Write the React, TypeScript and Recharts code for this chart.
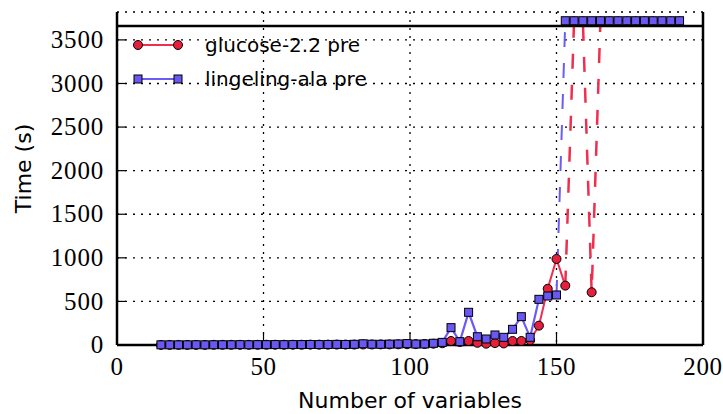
import { LineChart, Line, XAxis, YAxis, CartesianGrid, ReferenceLine, Legend } from "recharts";

// timed-out runs are plotted just above the top of the axes
const TIMEOUT = 3720;
const Y_LIMIT = 3660;
const Y_TOP = 3820;

const variables = [
  15, 18, 21, 24, 27, 30, 33, 36, 39, 42, 45, 48, 51, 54, 57, 60, 63, 66, 69, 72,
  75, 78, 81, 84, 87, 90, 93, 96, 99, 102, 105, 108, 111, 114, 117, 120, 123, 126, 129, 132,
  135, 138, 141, 144, 147, 150, 153, 156, 159, 162, 165, 168, 171, 174, 177, 180, 183, 186, 189, 192,
];

const glucoseTimes = [
  1, 1, 1, 1, 1, 1, 2, 2, 2, 2, 2, 2, 3, 3, 3, 3, 3, 4, 4, 4,
  5, 5, 5, 6, 6, 7, 7, 8, 9, 10, 12, 15, 20, 46, 35, 46, 25, 15, 22, 18,
  46, 46, 55, 222, 645, 987, 681, 3720, 3720, 605, 3720, 3720, 3720, 3720, 3720, 3720, 3720, 3720, 3720, 3720,
];

const lingelingTimes = [
  2, 2, 2, 2, 3, 2, 3, 3, 3, 4, 3, 4, 4, 5, 4, 5, 5, 6, 5, 6,
  7, 6, 8, 14, 9, 8, 10, 12, 16, 11, 12, 20, 30, 199, 38, 375, 95, 69, 115, 88,
  180, 325, 88, 524, 562, 574, 3720, 3720, 3720, 3720, 3720, 3720, 3720, 3720, 3720, 3720, 3720, 3720, 3720, 3720,
];

const xTicks = [0, 50, 100, 150, 200];
const yTicks = [0, 500, 1000, 1500, 2000, 2500, 3000, 3500];

const RED_LINE = "#ee2f4f";
const RED_FILL = "#e61f3c";
const BLUE_LINE = "#6a5cf5";
const BLUE_FILL = "#6a58f2";
const SERIF = "'Liberation Serif', serif";
const SANS = "'DejaVu Sans', sans-serif";

const isOut = (v: number) => v >= TIMEOUT;

// split one run into solid part, dashed jumps to/from timeout, and the timeout row
function split(values: number[]) {
  return values.map((v, i) => {
    const prev = i > 0 ? values[i - 1] : null;
    const next = i < values.length - 1 ? values[i + 1] : null;
    const out = isOut(v);
    const jump = out
      ? (prev !== null && !isOut(prev)) || (next !== null && !isOut(next))
      : (prev !== null && isOut(prev)) || (next !== null && isOut(next));
    return { solid: out ? null : v, jump: jump ? v : null, top: out ? v : null };
  });
}

const g = split(glucoseTimes);
const l = split(lingelingTimes);
const data = variables.map((n, i) => ({
  n,
  gSolid: g[i].solid,
  gJump: g[i].jump,
  gTop: g[i].top,
  lSolid: l[i].solid,
  lJump: l[i].jump,
  lTop: l[i].top,
}));

const legendItems = [
  { label: "glucose-2.2 pre", line: RED_LINE, fill: RED_FILL, shape: "circle" },
  { label: "lingeling-ala pre", line: BLUE_LINE, fill: BLUE_FILL, shape: "square" },
];

function Marker({ cx, cy, shape, fill, size }: any) {
  if (cx == null || cy == null) return null;
  if (shape === "circle") {
    return <circle cx={cx} cy={cy} r={size / 2} fill={fill} stroke="#000" strokeWidth={1} />;
  }
  return <rect x={cx - size / 2} y={cy - size / 2} width={size} height={size} fill={fill} stroke="#000" strokeWidth={1} />;
}

const circleDot = (p: any) => (
  <g key={`c-${p.index}`}>
    <Marker cx={p.cx} cy={p.cy} shape="circle" fill={RED_FILL} size={9} />
  </g>
);
const smallCircleDot = (p: any) => (
  <g key={`sc-${p.index}`}>
    <Marker cx={p.cx} cy={p.cy} shape="circle" fill={RED_FILL} size={7.5} />
  </g>
);
const squareDot = (p: any) => (
  <g key={`s-${p.index}`}>
    <Marker cx={p.cx} cy={p.cy} shape="square" fill={BLUE_FILL} size={8} />
  </g>
);

function LegendContent() {
  return (
    <div style={{ fontFamily: SANS, fontSize: 20, color: "#000" }}>
      {legendItems.map((item) => (
        <div key={item.label} style={{ display: "flex", alignItems: "center", height: 34 }}>
          <svg width={75} height={14} style={{ display: "block" }}>
            <line x1={8} x2={48} y1={7} y2={7} stroke={item.line} strokeWidth={2} />
            <Marker cx={8} cy={7} shape={item.shape} fill={item.fill} size={item.shape === "circle" ? 9 : 8} />
            <Marker cx={48} cy={7} shape={item.shape} fill={item.fill} size={item.shape === "circle" ? 9 : 8} />
          </svg>
          <span>{item.label}</span>
        </div>
      ))}
    </div>
  );
}

function YTitle(props: any) {
  const { viewBox } = props;
  const cx = viewBox.x + 23;
  const cy = viewBox.y + viewBox.height / 2 - 10;
  return (
    <text x={cx} y={cy} transform={`rotate(-90 ${cx} ${cy})`} textAnchor="middle" dominantBaseline="central"
      fontFamily={SANS} fontSize={22} fill="#000">
      Time (s)
    </text>
  );
}

function XTitle(props: any) {
  const { viewBox } = props;
  return (
    <text x={viewBox.x + viewBox.width / 2} y={viewBox.y + viewBox.height - 6} textAnchor="middle"
      fontFamily={SANS} fontSize={22} fill="#000">
      Number of variables
    </text>
  );
}

const renderXTick = (p: any) => (
  <text key={`xt-${p.index}`} x={p.x} y={p.y} dy="0.68em" textAnchor="middle"
    fontFamily={SERIF} fontSize={25} letterSpacing={0.6} fill="#000">
    {p.payload.value}
  </text>
);

const renderYTick = (p: any) => (
  <text key={`yt-${p.index}`} x={p.x} y={p.y} dy="0.33em" textAnchor="end"
    fontFamily={SERIF} fontSize={25} letterSpacing={0.8} fill="#000">
    {p.payload.value}
  </text>
);

const axisLine = { stroke: "#000", strokeWidth: 2.5 };
const tickLine = { stroke: "#000", strokeWidth: 1.2 };

export default function App() {
  return (
    <div style={{ position: "absolute", left: 0, top: 0, width: 723, height: 414, background: "#fff" }}>
      <LineChart width={723} height={414} data={data} margin={{ top: 12, right: 0, bottom: 0, left: 0 }}>
        <CartesianGrid stroke="#000" strokeWidth={1.3} strokeDasharray="2 6" />
        <Legend content={<LegendContent />} layout="horizontal" verticalAlign="middle" align="center"
          wrapperStyle={{ left: 130, top: 28, width: 300 }} />

        <Line xAxisId="top" dataKey="lJump" stroke={BLUE_LINE} strokeWidth={2} strokeDasharray="15 16" dot={false}
          activeDot={false} isAnimationActive={false} />
        <Line xAxisId="top" dataKey="gJump" stroke={RED_LINE} strokeWidth={2.5} strokeDasharray="15 16" dot={false}
          activeDot={false} isAnimationActive={false} />
        <Line xAxisId="top" dataKey="gTop" stroke={RED_LINE} strokeWidth={2} dot={smallCircleDot}
          activeDot={false} isAnimationActive={false} />
        <Line dataKey="gSolid" stroke={RED_LINE} strokeWidth={2} dot={circleDot}
          activeDot={false} isAnimationActive={false} />
        <Line dataKey="lSolid" stroke={BLUE_LINE} strokeWidth={2.2} dot={squareDot}
          activeDot={false} isAnimationActive={false} />
        <Line xAxisId="top" dataKey="lTop" stroke={BLUE_LINE} strokeWidth={2.2} dot={squareDot}
          activeDot={false} isAnimationActive={false} />

        <ReferenceLine y={Y_LIMIT} stroke="#000" strokeWidth={2.5} />

        <XAxis dataKey="n" type="number" domain={[0, 200]} ticks={xTicks} height={69} allowDataOverflow
          axisLine={axisLine} tickLine={tickLine} tickSize={-12} tickMargin={25} tick={renderXTick}
          label={<XTitle />} />
        <XAxis xAxisId="top" dataKey="n" orientation="top" type="number" domain={[0, 200]} ticks={xTicks} height={0}
          axisLine={false} tickLine={tickLine} tickSize={-14} tick={false} />
        <YAxis type="number" domain={[0, Y_TOP]} ticks={yTicks} width={117}
          axisLine={axisLine} tickLine={tickLine} tickSize={-9} tickMargin={22} tick={renderYTick}
          label={<YTitle />} />
        <YAxis yAxisId="right" orientation="right" type="number" domain={[0, Y_TOP]} ticks={yTicks} width={20}
          axisLine={axisLine} tickLine={tickLine} tickSize={-9} tick={false} />
      </LineChart>
    </div>
  );
}
